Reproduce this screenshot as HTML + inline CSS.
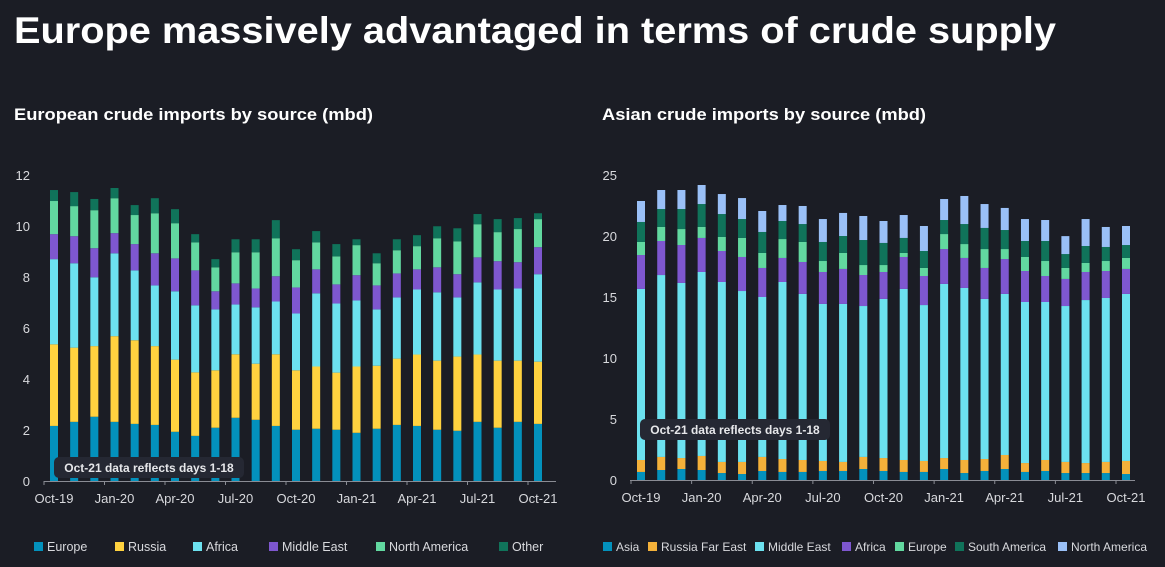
<!DOCTYPE html>
<html><head><meta charset="utf-8">
<style>
body{margin:0;background:#1b1d25;width:1165px;height:567px;overflow:hidden;font-family:"Liberation Sans",sans-serif;color:#fff}
svg{position:absolute;left:0;top:0}
</style></head>
<body>
<svg id="c" width="1165" height="567">
<text x="14" y="43" font-size="37" font-weight="bold" fill="#fff" textLength="1042" lengthAdjust="spacingAndGlyphs">Europe massively advantaged in terms of crude supply</text>
<text x="14" y="120" font-size="17" font-weight="bold" fill="#fff" textLength="359" lengthAdjust="spacingAndGlyphs">European crude imports by source (mbd)</text>
<text x="602" y="120" font-size="17" font-weight="bold" fill="#fff" textLength="324" lengthAdjust="spacingAndGlyphs">Asian crude imports by source (mbd)</text>
</svg>
<script>
const months=["Oct-19","Nov-19","Dec-19","Jan-20","Feb-20","Mar-20","Apr-20","May-20","Jun-20","Jul-20","Aug-20","Sep-20","Oct-20","Nov-20","Dec-20","Jan-21","Feb-21","Mar-21","Apr-21","May-21","Jun-21","Jul-21","Aug-21","Sep-21","Oct-21"];
const tickLabels=["Oct-19","Jan-20","Apr-20","Jul-20","Oct-20","Jan-21","Apr-21","Jul-21","Oct-21"];
const euTicks=[0,2,4,6,8,10,12];
const asTicks=[0,5,10,15,20,25];
// European imports: cumulative stack tops (mbd)
const euEurope=[2.16,2.32,2.52,2.32,2.24,2.20,1.93,1.77,2.09,2.48,2.40,2.16,2.01,2.05,2.01,1.89,2.05,2.20,2.16,2.01,1.97,2.32,2.09,2.32,2.24];
const euRussia=[5.36,5.23,5.29,5.68,5.52,5.29,4.76,4.26,4.34,4.97,4.60,4.97,4.34,4.49,4.25,4.49,4.52,4.80,4.96,4.72,4.88,4.96,4.72,4.72,4.68];
const euAfrica=[8.70,8.54,7.99,8.93,8.26,7.67,7.44,6.89,6.73,6.92,6.81,7.04,6.57,7.36,6.96,7.08,6.73,7.20,7.51,7.40,7.20,7.79,7.51,7.55,8.11];
const euMiddleEast=[9.68,9.60,9.13,9.72,9.29,8.93,8.73,8.26,7.44,7.75,7.55,8.03,7.59,8.30,7.71,8.07,7.67,8.14,8.30,8.38,8.11,8.77,8.62,8.58,9.17];
const euNorthAmerica=[10.98,10.78,10.62,11.09,10.43,10.50,10.11,9.36,8.38,8.97,8.97,9.52,8.66,9.36,8.81,9.25,8.54,9.05,9.21,9.52,9.40,10.07,9.76,9.88,10.27];
const euOther=[11.41,11.33,11.06,11.49,10.82,11.09,10.66,9.68,8.70,9.48,9.48,10.23,9.09,9.80,9.29,9.48,8.93,9.48,9.64,9.99,9.91,10.47,10.27,10.31,10.50];
// Asian imports: cumulative stack tops (mbd)
const asAsia=[0.66,0.82,0.90,0.82,0.57,0.49,0.74,0.66,0.66,0.74,0.74,0.90,0.74,0.66,0.66,0.90,0.57,0.74,0.90,0.66,0.74,0.57,0.57,0.57,0.49];
const asRFE=[1.64,1.89,1.80,1.97,1.48,1.48,1.89,1.72,1.64,1.56,1.48,1.89,1.80,1.64,1.56,1.80,1.64,1.72,2.05,1.39,1.64,1.48,1.39,1.48,1.56];
const asMiddleEast=[15.66,16.80,16.15,17.05,16.23,15.49,15.00,16.23,15.25,14.43,14.43,14.26,14.84,15.66,14.34,16.07,15.74,14.84,15.25,14.59,14.59,14.26,14.75,14.92,15.25];
const asAfrica=[18.44,19.59,19.26,19.84,18.77,18.28,17.38,18.20,17.87,17.05,17.30,16.80,17.05,18.28,16.72,18.93,18.20,17.38,18.11,17.13,16.72,16.48,17.05,17.13,17.30];
const asEurope=[19.51,20.74,20.57,20.74,19.92,19.84,18.61,19.75,19.51,17.95,18.61,17.62,17.62,18.61,17.38,20.16,19.34,18.93,18.93,18.28,17.95,17.38,17.79,17.95,18.20];
const asSouthAmerica=[21.15,22.21,22.21,22.62,21.80,21.39,20.33,21.23,20.98,19.51,20.00,19.67,19.43,19.84,18.77,21.31,20.98,20.66,20.49,19.59,19.59,18.52,19.18,19.10,19.26];
const asNorthAmerica=[22.87,23.77,23.77,24.18,23.44,23.11,22.05,22.54,22.46,21.39,21.89,21.64,21.23,21.72,20.82,23.03,23.28,22.62,22.30,21.39,21.31,19.99,21.39,20.74,20.82];

const NS="http://www.w3.org/2000/svg";
const svg=document.getElementById('c');
function mk(t,a){const e=document.createElementNS(NS,t);for(const k in a)e.setAttribute(k,a[k]);svg.appendChild(e);return e;}

function drawChart(cfg){
  const y=v=>cfg.y0-(v/cfg.max)*(cfg.y0-cfg.yTop);
  const x=i=>cfg.x0+i*(cfg.x1-cfg.x0)/(months.length-1);
  cfg.ticks.forEach(t=>{
    const e=mk('text',{x:cfg.labX,y:y(t)+5,'text-anchor':'end','font-size':13,fill:'#d8d9dd'});
    e.textContent=t;
    
    
  });
  const ax=mk('line',{x1:cfg.axL,x2:cfg.axR,y1:cfg.y0+0.5,y2:cfg.y0+0.5,stroke:'#8a8c94','stroke-width':1});
  
  
  months.forEach((m,i)=>{
    let prev=0;
    cfg.series.forEach((s,k)=>{
      const top=s.d[i];
      const r=mk('rect',{x:x(i)-4,y:y(top),width:8,height:Math.max(0,y(prev)-y(top)),fill:s.c});
      
      
      prev=top;
    });
    const li=tickLabels.indexOf(m);
    if(li>=0){
      const tk=mk('line',{x1:x(i)-10,x2:x(i)-10,y1:cfg.y0,y2:cfg.y0+4,stroke:'#8a8c94'});
      
      
      const t=mk('text',{x:x(i),y:cfg.y0+22,'text-anchor':'middle','font-size':13,fill:'#d8d9dd'});
      t.textContent=m;
      
      
    }
  });
  const b=mk('rect',{x:cfg.noteX,y:cfg.noteY,width:190,height:21,rx:5,fill:'#252833'});
  
  
  const nt=mk('text',{x:cfg.noteX+95,y:cfg.noteY+15,'text-anchor':'middle','font-size':12,'font-weight':'bold',fill:'#e6e7ea'});
  nt.textContent='Oct-21 data reflects days 1-18';
  
  
  cfg.series.forEach((s,k)=>{
    const lx=cfg.legPos[k];
    const sq=mk('rect',{x:lx,y:542,width:9,height:9,fill:s.c});
    
    
    const lt=mk('text',{x:lx+13,y:551,'font-size':cfg.legFont,fill:'#d8d9dd'});
    lt.textContent=s.n;
    
    
  });
}
drawChart({p:'europe',y0:481,yTop:175,max:12,x0:54,x1:538,axL:44,axR:556,labX:30,ticks:euTicks,noteX:54,noteY:457,legFont:12.5,legPos:[34,115,193,269,376,499],
  series:[{n:'Europe',c:'#0391bc',d:euEurope},{n:'Russia',c:'#ffd23f',d:euRussia},{n:'Africa',c:'#6ce1ef',d:euAfrica},{n:'Middle East',c:'#7e57cf',d:euMiddleEast},{n:'North America',c:'#62d8a0',d:euNorthAmerica},{n:'Other',c:'#10735a',d:euOther}]});
drawChart({p:'asia',y0:480,yTop:175,max:25,x0:641,x1:1126,axL:630,axR:1135,labX:617,ticks:asTicks,noteX:640,noteY:419,legFont:12,legPos:[603,648,755,842,895,955,1058],
  series:[{n:'Asia',c:'#0391bc',d:asAsia},{n:'Russia Far East',c:'#f4b13a',d:asRFE},{n:'Middle East',c:'#6ce1ef',d:asMiddleEast},{n:'Africa',c:'#7e57cf',d:asAfrica},{n:'Europe',c:'#62d8a0',d:asEurope},{n:'South America',c:'#10735a',d:asSouthAmerica},{n:'North America',c:'#9ac0f7',d:asNorthAmerica}]});
</script>
</body></html>
